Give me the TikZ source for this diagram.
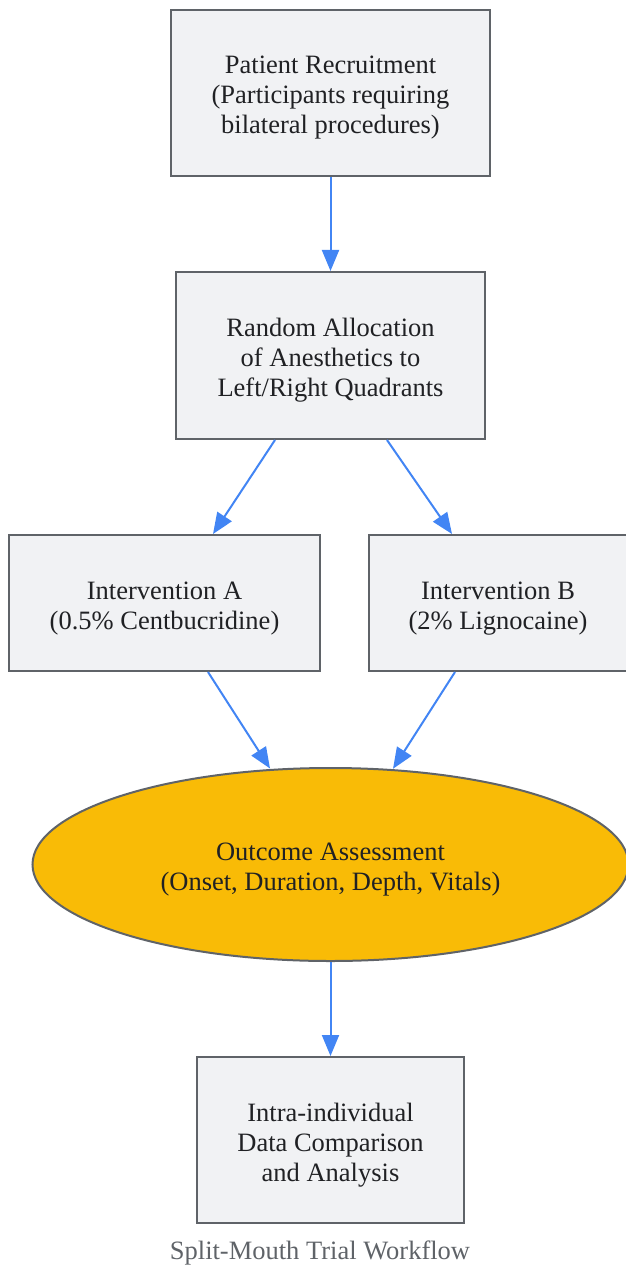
\documentclass[tikz,border=0pt]{standalone}
\usepackage{fontspec}
\setmainfont{Liberation Serif}
\usetikzlibrary{arrows.meta,shapes.geometric}
\definecolor{boxfill}{HTML}{F1F2F4}
\definecolor{boxline}{HTML}{5F6368}
\definecolor{ellfill}{HTML}{F9BB06}
\definecolor{arrowblue}{HTML}{4285F4}
\definecolor{txt}{HTML}{202124}
\begin{document}
\begin{tikzpicture}[x=1pt,y=-1pt,
  stepbox/.style={draw=boxline, line width=2pt, fill=boxfill, inner sep=0pt},
  outcome/.style={ellipse, draw=boxline, line width=2pt, fill=ellfill, inner sep=0pt,
    minimum width=596pt, minimum height=193pt},
  lbl/.style={text=txt, align=center, inner sep=0pt, font=\fontsize{26.5}{30}\selectfont},
  flow/.style={draw=arrowblue, line width=2pt, -{Triangle[length=21pt,width=17pt]}}
]
\useasboundingbox (0,0) rectangle (625,1265);
\node[stepbox, minimum width=319pt, minimum height=166pt] (rec) at (330.5,93) {};
\node[lbl] (recT) at ([yshift=-5pt]rec.center)
  {Patient Recruitment\\(Participants requiring\\bilateral procedures)};
\node[stepbox, minimum width=309pt, minimum height=167pt] (alloc) at (330.5,355.5) {};
\node[lbl] (allocT) at ([yshift=-5pt]alloc.center)
  {Random Allocation\\of Anesthetics to\\Left/Right Quadrants};
\node[stepbox, minimum width=311pt, minimum height=136pt] (ia) at (164.5,603) {};
\node[lbl] (iaT) at ([yshift=-5.5pt]ia.center)
  {Intervention A\\(0.5\% Centbucridine)};
\node[stepbox, minimum width=258pt, minimum height=136pt] (ib) at (498,603) {};
\node[lbl] (ibT) at ([yshift=-5.5pt]ib.center)
  {Intervention B\\(2\% Lignocaine)};
\node[outcome] (out) at (330.5,864.5) {};
\node[lbl] (outT) at ([yshift=-5.5pt]out.center)
  {Outcome Assessment\\(Onset, Duration, Depth, Vitals)};
\node[stepbox, minimum width=267pt, minimum height=166pt] (ana) at (330.5,1140) {};
\node[lbl] (anaT) at ([yshift=-5pt]ana.center)
  {Intra-individual\\Data Comparison\\and Analysis};
\node[lbl, text=boxline] (cap) at (320,1253)
  {Split-Mouth Trial Workflow};
\draw[flow] (rec.south) -- (alloc.north);
\draw[flow] ([xshift=-55.5pt]alloc.south) -- ([xshift=48.5pt]ia.north);
\draw[flow] ([xshift=56.5pt]alloc.south) -- ([xshift=-46pt]ib.north);
\draw[flow] ([xshift=43.5pt]ia.south) -- ([xshift=-60.5pt,yshift=-1.5pt]out.north);
\draw[flow] ([xshift=-43pt]ib.south) -- ([xshift=62.5pt,yshift=-1.8pt]out.north);
\draw[flow] (out.south) -- (ana.north);
\end{tikzpicture}
\end{document}
